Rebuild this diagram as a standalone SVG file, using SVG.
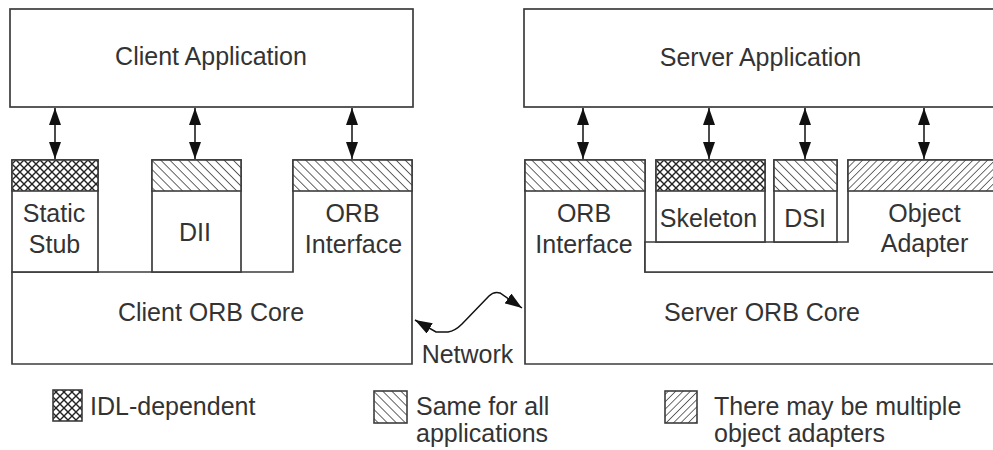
<svg xmlns="http://www.w3.org/2000/svg" width="993" height="450" viewBox="0 0 993 450">
<style>
.box{fill:#fff;stroke:#3c3c3c;stroke-width:1.7}
.ln{fill:none;stroke:#3c3c3c;stroke-width:1.7}
.t{font-family:"Liberation Sans",Arial,sans-serif;font-size:25px;fill:#333;text-anchor:middle}
.l{font-family:"Liberation Sans",Arial,sans-serif;font-size:25px;fill:#333}
.conn{fill:none;stroke:#111;stroke-width:1.5}
.hx{stroke:#3c3c3c;stroke-width:1.6}
</style>
<defs>
<pattern id="cross" width="8" height="8" patternUnits="userSpaceOnUse">
<rect width="8" height="8" fill="#fff"/>
<path d="M0,0 L8,8 M8,0 L0,8" stroke="#222" stroke-width="1.4"/>
</pattern>
<pattern id="back" width="6.4" height="6.4" patternUnits="userSpaceOnUse" patternTransform="rotate(-45)">
<rect width="6.4" height="6.4" fill="#fff"/>
<path d="M0,0 L0,6.4" stroke="#222" stroke-width="1.4"/>
</pattern>
<pattern id="fwd" width="5.2" height="5.2" patternUnits="userSpaceOnUse" patternTransform="rotate(45)">
<rect width="5.2" height="5.2" fill="#fff"/>
<path d="M0,0 L0,5.2" stroke="#222" stroke-width="1.3"/>
</pattern>
<marker id="ah" viewBox="0 0 17 12" refX="17" refY="6" markerWidth="17" markerHeight="12" markerUnits="userSpaceOnUse" orient="auto-start-reverse">
<path d="M0,0 L17,6 L0,12 z" fill="#111"/>
</marker>
</defs>

<g id="client-application">
<rect class="box" x="10" y="9" width="403" height="98"/>
<text class="t" x="211" y="65">Client Application</text>
</g>

<g id="client-orb-core">
<path class="box" d="M293,160 L412,160 L412,364 L12,364 L12,272 L293,272 Z"/>
<rect class="hx" x="293" y="160" width="119" height="31" fill="url(#back)"/>
<text class="t" x="352.5" y="222">ORB</text>
<text class="t" x="353.5" y="253">Interface</text>
<text class="t" x="211" y="321">Client ORB Core</text>
</g>

<g id="static-stub">
<rect class="box" x="12" y="160" width="86" height="112"/>
<rect class="hx" x="12" y="160" width="86" height="31" fill="url(#cross)"/>
<text class="t" x="54" y="222">Static</text>
<text class="t" x="54.5" y="253">Stub</text>
</g>

<g id="dii">
<rect class="box" x="152" y="160" width="89" height="112"/>
<rect class="hx" x="152" y="160" width="89" height="31" fill="url(#back)"/>
<text class="t" x="195" y="241">DII</text>
</g>

<g id="server-application">
<rect class="box" x="524" y="9" width="480" height="98"/>
<text class="t" x="760.5" y="66">Server Application</text>
</g>

<g id="server-orb-core">
<path class="box" d="M645,160 L525,160 L525,364 L1004,364 L1004,272 L645,272 Z"/>
<rect class="hx" x="525" y="160" width="120" height="31" fill="url(#back)"/>
<text class="t" x="584" y="222">ORB</text>
<text class="t" x="584" y="253">Interface</text>
<text class="t" x="762" y="321">Server ORB Core</text>
</g>

<g id="object-adapter">
<path class="box" d="M645,242 L848,242 L848,160 L1004,160 L1004,272 L645,272 Z"/>
<rect class="hx" x="848" y="160" width="156" height="31" fill="url(#fwd)"/>
<text class="t" x="924.5" y="222">Object</text>
<text class="t" x="924.5" y="252">Adapter</text>
</g>

<g id="skeleton">
<rect class="box" x="656" y="160" width="109" height="82"/>
<rect class="hx" x="656" y="160" width="109" height="31" fill="url(#cross)"/>
<text class="t" x="708.5" y="227">Skeleton</text>
</g>

<g id="dsi">
<rect class="box" x="774" y="160" width="63" height="82"/>
<rect class="hx" x="774" y="160" width="63" height="31" fill="url(#back)"/>
<text class="t" x="805" y="227">DSI</text>
</g>

<g id="connectors">
<path class="conn" d="M55,108 L55,159" marker-start="url(#ah)" marker-end="url(#ah)"/>
<path class="conn" d="M195,108 L195,159" marker-start="url(#ah)" marker-end="url(#ah)"/>
<path class="conn" d="M352,108 L352,159" marker-start="url(#ah)" marker-end="url(#ah)"/>
<path class="conn" d="M583,108 L583,159" marker-start="url(#ah)" marker-end="url(#ah)"/>
<path class="conn" d="M709,108 L709,159" marker-start="url(#ah)" marker-end="url(#ah)"/>
<path class="conn" d="M805,108 L805,159" marker-start="url(#ah)" marker-end="url(#ah)"/>
<path class="conn" d="M924,108 L924,159" marker-start="url(#ah)" marker-end="url(#ah)"/>
<path class="conn" d="M415,320 L436,332 L448,332 Q455,331 462,324 L489,296 Q494,291 500,293 L522,308" marker-start="url(#ah)" marker-end="url(#ah)"/>
<text class="t" x="467.5" y="363">Network</text>
</g>

<g id="legend">
<rect class="hx" x="53" y="390" width="29" height="31" fill="url(#cross)"/>
<text class="l" x="90" y="415">IDL-dependent</text>
<rect class="hx" x="374" y="391" width="33" height="32" fill="url(#back)"/>
<text class="l" x="416" y="415">Same for all</text>
<text class="l" x="416" y="442">applications</text>
<rect class="hx" x="665" y="391" width="32" height="32" fill="url(#fwd)"/>
<text class="l" x="714" y="415">There may be multiple</text>
<text class="l" x="714" y="442">object adapters</text>
</g>
</svg>
